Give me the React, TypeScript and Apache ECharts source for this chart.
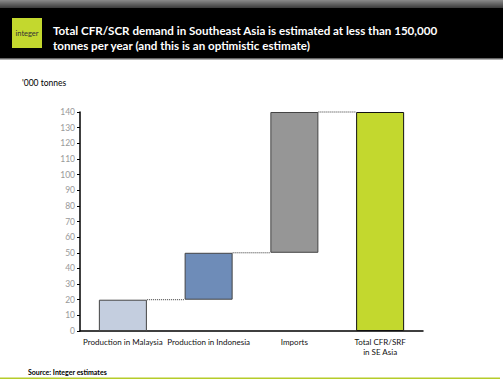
import React, { useEffect, useRef } from "react";
import * as echarts from "echarts";

const categories = ["Production in Malaysia", "Production in Indonesia", "Imports", "Total CFR/SRF\nin SE Asia"];
const baseValues = [0, 20, 50, 0];
const barValues = [20, 30, 90, 140];
const barColors = ["#c4cedf", "#6e8cb8", "#969696", "#c3d82e"];
const connectorLevels = [20, 50, 140];
const titleLines = [
  "Total CFR/SCR demand in Southeast Asia is estimated at less than 150,000",
  "tonnes per year (and this is an optimistic estimate)",
];
const unitLabel = "'000 tonnes";
const sourceLabel = "Source: Integer estimates";
const BAR_RATIO = 0.56;

export default function App() {
  const ref = useRef<HTMLDivElement>(null);
  useEffect(() => {
    if (!ref.current) return;
    const chart = echarts.init(ref.current, undefined, { renderer: "svg" });
    const font = "Lato, 'Noto Sans', sans-serif";
    chart.setOption({
      animation: false,
      backgroundColor: "#ffffff",
      textStyle: { fontFamily: font },
      grid: { left: 80, right: 80, top: 112, bottom: 53, containLabel: false },
      xAxis: {
        type: "category",
        data: categories,
        axisLine: { lineStyle: { color: "#000", width: 1.5 } },
        axisTick: { show: false },
        axisLabel: { color: "#111", fontSize: 8, margin: 6, lineHeight: 10, interval: 0, fontFamily: font },
      },
      yAxis: {
        type: "value",
        min: 0,
        max: 140,
        interval: 10,
        splitLine: { show: false },
        axisLine: { show: true, lineStyle: { color: "#000", width: 1.5 } },
        axisTick: { show: true, length: 3, lineStyle: { color: "#000" } },
        axisLabel: { color: "#999", fontSize: 8.5, margin: 5, fontFamily: font },
      },
      series: [
        {
          type: "bar",
          stack: "w",
          data: baseValues,
          itemStyle: { color: "transparent" },
          barWidth: BAR_RATIO * 100 + "%",
          silent: true,
        },
        {
          type: "bar",
          stack: "w",
          barWidth: BAR_RATIO * 100 + "%",
          data: barValues.map((v, i) => ({
            value: v,
            itemStyle: { color: barColors[i], borderColor: i === 3 ? "#111" : "#444", borderWidth: 1 },
          })),
        },
        {
          type: "custom",
          data: connectorLevels.map((v, i) => [i, v]),
          renderItem: (params: any, api: any) => {
            const idx = api.value(0);
            const val = api.value(1);
            const p = api.coord([idx, val]);
            const band = api.size([1, 0])[0];
            const bw = band * BAR_RATIO;
            return {
              type: "line",
              shape: { x1: p[0] + bw / 2, y1: p[1], x2: p[0] + band - bw / 2, y2: p[1] },
              style: { stroke: "#333", lineWidth: 1, lineDash: [1, 1] },
            };
          },
          z: 5,
        },
      ],
      graphic: [
        { type: "rect", shape: { x: 0, y: 0, width: 503, height: 8 }, style: { fill: new echarts.graphic.LinearGradient(0, 0, 0, 1, [{ offset: 0, color: "#8a8a8a" }, { offset: 1, color: "#3a3a3a" }]) } },
        { type: "rect", shape: { x: 0, y: 8, width: 503, height: 51 }, style: { fill: "#000" } },
        { type: "rect", shape: { x: 0, y: 58, width: 503, height: 1.5 }, style: { fill: "#666" } },
        { type: "rect", shape: { x: 12, y: 18, width: 30, height: 30 }, style: { fill: "#c3d82e" } },
        { type: "text", x: 27, y: 33, style: { text: "integer", fill: "#333", font: "7.5px " + font, textAlign: "center", textVerticalAlign: "middle" } },
        { type: "text", x: 53, y: 30, style: { text: titleLines[0], fill: "#fff", font: "bold 11.6px " + font, textVerticalAlign: "middle" } },
        { type: "text", x: 53, y: 45, style: { text: titleLines[1], fill: "#fff", font: "bold 11.6px " + font, textVerticalAlign: "middle" } },
        { type: "text", x: 22, y: 83, style: { text: unitLabel, fill: "#000", font: "8.5px " + font, textVerticalAlign: "middle" } },
        { type: "text", x: 28, y: 372, style: { text: sourceLabel, fill: "#000", font: "bold 7px " + font, textVerticalAlign: "middle" } },
        { type: "rect", shape: { x: 0, y: 377.5, width: 500, height: 1.5 }, style: { fill: "#b5cc2a" } },
      ],
    });
    return () => chart.dispose();
  }, []);
  return <div ref={ref} style={{ position: "fixed", left: 0, top: 0, width: 503, height: 384 }} />;
}
